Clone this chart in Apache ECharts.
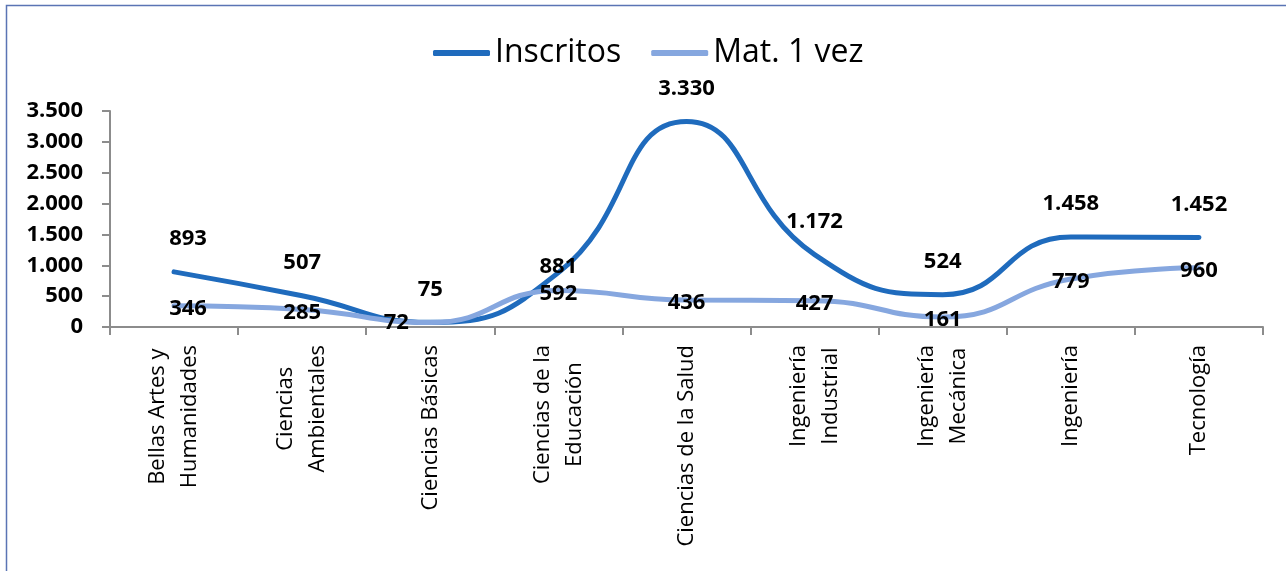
<!DOCTYPE html>
<html>
<head>
<meta charset="utf-8">
<script src="https://cdn.jsdelivr.net/npm/echarts@6/dist/echarts.min.js"></script>
<style>
  html, body { margin: 0; padding: 0; background: #fff; }
  #chart { width: 1286px; height: 571px; }
</style>
</head>
<body>
<div id="chart"></div>
<script>
const categories = [
  'Bellas Artes y\nHumanidades',
  'Ciencias\nAmbientales',
  'Ciencias Básicas',
  'Ciencias de la\nEducación',
  'Ciencias de la Salud',
  'Ingeniería\nIndustrial',
  'Ingeniería\nMecánica',
  'Ingeniería',
  'Tecnología'
]
const inscritos = [893, 507, 75, 881, 3330, 1172, 524, 1458, 1452]
const matUnaVez = [346, 285, 72, 592, 436, 427, 161, 779, 960]

const FONT = 'Open Sans'

// separador de miles con punto
function fmt(v) {
  return String(v).replace(/\B(?=(\d{3})+(?!\d))/g, '.')
}

// pequeños desplazamientos de etiquetas como en el original
const inscritosOffsets = { 0: [14, 0], 3: [0, 27] }
const matOffsets = { 0: [14, 3], 2: [-34, 0] }

function withOffsets(values, offsets, base) {
  return values.map((v, i) => {
    if (offsets[i]) {
      return { value: v, label: { offset: offsets[i] } }
    }
    return base ? { value: v, label: { offset: base } } : v
  })
}

const chart = echarts.init(document.getElementById('chart'))

chart.setOption({
  animation: false,
  graphic: [{
    type: 'polyline',
    shape: { points: [[6.5, 571], [6.5, 5.5], [1286, 5.5]] },
    style: { stroke: '#5a74b4', lineWidth: 1.5, fill: null }
  }],
  legend: {
    left: 428,
    top: 32,
    itemWidth: 57,
    itemHeight: 6,
    itemGap: 30,
    icon: 'roundRect',
    textStyle: { fontFamily: FONT, fontSize: 32, color: '#000' },
    data: ['Inscritos', 'Mat. 1 vez']
  },
  grid: {
    left: 110,
    right: 23,
    top: 111,
    bottom: 244,
    containLabel: false
  },
  xAxis: {
    type: 'category',
    data: categories,
    boundaryGap: true,
    axisLine: { lineStyle: { color: '#8c8c8c', width: 2 } },
    axisTick: { show: true, length: 8, lineStyle: { color: '#8c8c8c', width: 2 } },
    axisLabel: {
      interval: 0,
      rotate: 90,
      margin: 18,
      formatter: val => val.split('\n').map(l => '{c|' + l + '}').join('\n'),
      rich: {
        c: {
          fontFamily: FONT,
          fontSize: 22,
          color: '#000',
          align: 'center',
          lineHeight: 32
        }
      }
    }
  },
  yAxis: {
    type: 'value',
    min: 0,
    max: 3500,
    interval: 500,
    splitLine: { show: false },
    axisLine: { show: true, lineStyle: { color: '#8c8c8c', width: 2 } },
    axisTick: { show: true, length: 8, lineStyle: { color: '#8c8c8c', width: 2 } },
    axisLabel: {
      margin: 27,
      fontFamily: FONT,
      fontSize: 22,
      fontWeight: 'bold',
      color: '#000',
      formatter: v => fmt(v)
    }
  },
  series: [
    {
      name: 'Inscritos',
      type: 'line',
      smooth: 0.5,
      symbol: 'circle',
      symbolSize: 0.1,
      showSymbol: true,
      color: '#1f6bbd',
      lineStyle: { width: 5, color: '#1f6bbd', cap: 'round' },
      label: {
        show: true,
        position: 'top',
        distance: 22,
        fontFamily: FONT,
        fontSize: 22,
        fontWeight: 'bold',
        color: '#000',
        formatter: p => fmt(p.value)
      },
      data: withOffsets(inscritos, inscritosOffsets)
    },
    {
      name: 'Mat. 1 vez',
      type: 'line',
      smooth: 0.5,
      symbol: 'circle',
      symbolSize: 0.1,
      showSymbol: true,
      color: '#86a7df',
      lineStyle: { width: 5, color: '#86a7df', cap: 'round' },
      label: {
        show: true,
        position: 'inside',
        fontFamily: FONT,
        fontSize: 22,
        fontWeight: 'bold',
        color: '#000',
        formatter: p => fmt(p.value)
      },
      data: withOffsets(matUnaVez, matOffsets, [0, 3])
    }
  ]
})
</script>
</body>
</html>
